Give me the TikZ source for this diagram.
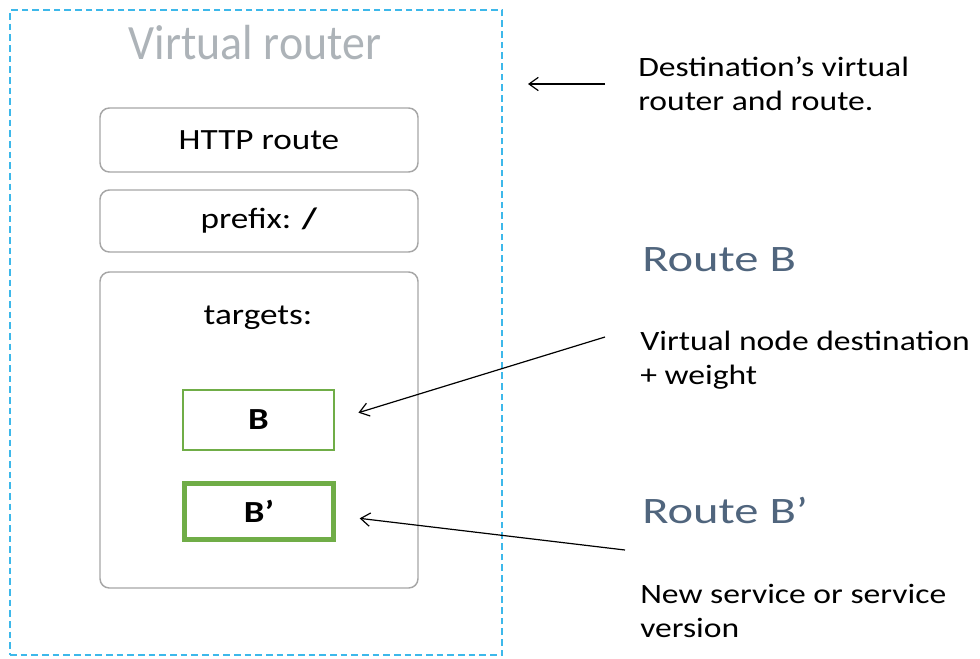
\documentclass[tikz,border=0pt]{standalone}
\usepackage{fontspec}
\setmainfont{Carlito}
\newfontfamily\bodyfont{Carlito}[FakeStretch=1.2]
\newfontfamily\routefont{Carlito}[FakeStretch=1.3]
\newfontfamily\titlefont{Carlito}[FakeStretch=0.93]
\usepackage{tikz}
\usetikzlibrary{arrows.meta}
\definecolor{dashblue}{HTML}{3DB8EA}
\definecolor{titlegray}{HTML}{ADB3B8}
\definecolor{routeblue}{HTML}{50657D}
\definecolor{boxgray}{HTML}{A6A6A6}
\definecolor{targetgreen}{HTML}{70AD47}

\begin{document}
\begin{tikzpicture}[x=0.75pt,y=-0.75pt]
		\useasboundingbox (0,0) rectangle (980,658);
		\tikzstyle{panel}=[draw=boxgray,line width=1.1pt,rounded corners=7pt,minimum width=238.5pt,inner sep=0pt,font=\bodyfont\fontsize{22}{26}\selectfont]
		\tikzstyle{target}=[draw=targetgreen,inner sep=0pt,font=\bodyfont\fontsize{23}{26}\selectfont\bfseries]
		\tikzstyle{note}=[anchor=west,align=left,inner sep=0pt,font=\bodyfont\fontsize{21}{25.5}\selectfont]
		\tikzstyle{routetitle}=[anchor=west,inner sep=0pt,text=routeblue,font=\routefont\fontsize{28}{32}\selectfont]
		\tikzstyle{arr}=[draw=black,line width=0.9pt,-{Straight Barb[length=7pt,width=10pt]}]
		% outer router frame
		\node[draw=dashblue,line width=1.5pt,dash pattern=on 5pt off 3pt,minimum width=369pt,minimum height=483.75pt,inner sep=0pt] (router) at (256,332.5) {};
		\node[text=titlegray,font=\titlefont\fontsize{37}{42}\selectfont] (title) at (255,43) {Virtual router};
		\node[panel,minimum height=48pt] (http) at (259,140) {HTTP route};
		\node[panel,minimum height=46.5pt] (prefix) at (259,221) {prefix: \textbf{/}};
		\node[panel,minimum height=237pt] (targets) at (259,430) {};
		\node[font=\bodyfont\fontsize{22}{26}\selectfont] (tgtlabel) at (258,318) {targets:};
		\node[target,line width=0.8pt,minimum width=113.25pt,minimum height=45pt] (b) at (258.5,420) {B};
		\node[target,line width=3.5pt,minimum width=111.75pt,minimum height=42pt] (bp) at (259,511.5) {B’};
		% notes on the right
		\node[note] (dest) at (638,84) {Destination’s virtual\\router and route.};
		\node[routetitle] (routeb) at (642,260) {Route B};
		\node[note] (descb) at (640,360) {Virtual node destination\\+ weight};
		\node[routetitle] (routebp) at (642,510) {Route B’};
		\node[note] (descbp) at (640,611) {New service or service\\version};
		\coordinate (bfrom) at (605,337);
		\coordinate (bpfrom) at (625,550);
		\draw[arr,shorten <=24.75pt,shorten >=18.75pt] (dest.west) -- (router.east |- dest.west);
		\draw[arr,shorten >=18.75pt] (bfrom) -- (b.east);
		\draw[arr,shorten >=18pt] (bpfrom) -- ([yshift=-3pt]bp.east);
	\end{tikzpicture}
\end{document}
